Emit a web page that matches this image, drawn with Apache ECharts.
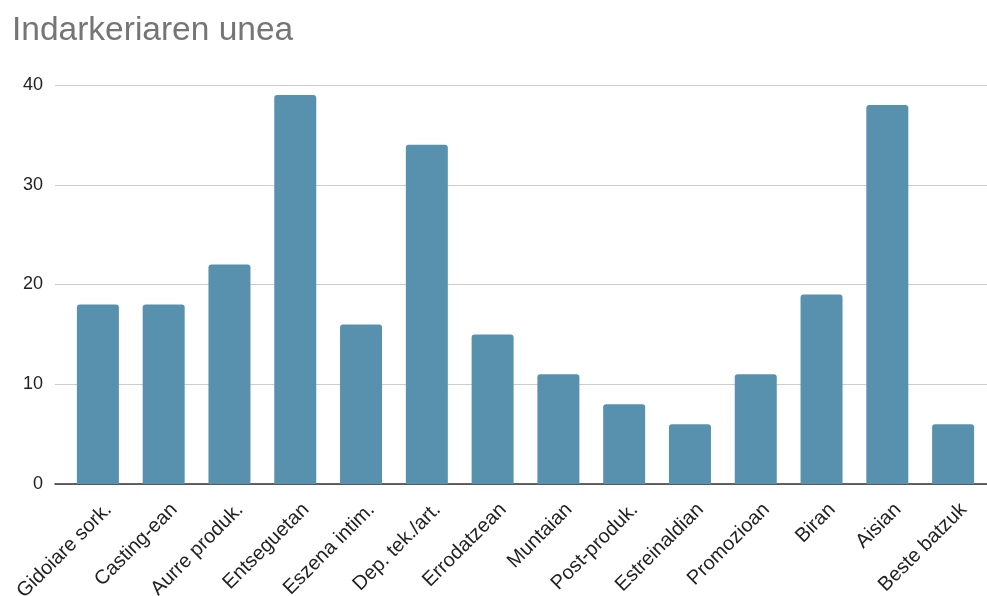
<!DOCTYPE html>
<html><head><meta charset="utf-8">
<script src="https://cdn.jsdelivr.net/npm/echarts@6/dist/echarts.min.js"></script>
<style>html,body{margin:0;padding:0;background:#fff}#c{width:987px;height:596px}</style>
</head><body><div id="c"></div>
<script>
const categories = ["Gidoiare sork.","Casting-ean","Aurre produk.","Entseguetan","Eszena intim.","Dep. tek./art.","Errodatzean","Muntaian","Post-produk.","Estreinaldian","Promozioan","Biran","Aisian","Beste batzuk"];
const values = [18,18,22,39,16,34,15,11,8,6,11,19,38,6];
const yTicks = {min:0, max:40, interval:10};
const FONT = "Liberation Sans, Arial, sans-serif";
const chart = echarts.init(document.getElementById('c'));
chart.setOption({
  animation:false,
  title:{text:"Indarkeriaren unea", left:7, top:9, textStyle:{fontFamily:FONT, fontSize:33.5, fontWeight:'normal', color:'#757575'}},
  grid:[
    {left:55, right:0, top:85, bottom:112, containLabel:false, outerBoundsMode:'none'},
    {left:65, right:1, top:85, bottom:112, containLabel:false, outerBoundsMode:'none'}
  ],
  xAxis:[
    {gridIndex:0, type:'value', min:0, max:1, axisLabel:{show:false}, splitLine:{show:false}, axisTick:{show:false},
     axisLine:{show:true, lineStyle:{color:'#333', width:1.5}}},
    {gridIndex:1, type:'category', data:categories, axisLine:{show:false}, axisTick:{show:false},
     axisLabel:{interval:0, rotate:45, margin:12, verticalAlign:'top', lineHeight:30, fontFamily:FONT, fontSize:20, color:'#222'}}
  ],
  yAxis:[
    {gridIndex:0, type:'value', min:yTicks.min, max:yTicks.max, interval:yTicks.interval,
     axisLabel:{margin:12, fontFamily:FONT, fontSize:18, color:'#222'},
     splitLine:{lineStyle:{color:'#cccccc', width:1}}, axisLine:{show:false}, axisTick:{show:false}},
    {gridIndex:1, type:'value', min:yTicks.min, max:yTicks.max, interval:yTicks.interval, show:false, splitLine:{show:false}}
  ],
  series:[{type:'bar', xAxisIndex:1, yAxisIndex:1, data:values, barWidth:42,
    itemStyle:{color:'#5891ae', borderRadius:[3,3,0,0]}}]
});
</script></body></html>
